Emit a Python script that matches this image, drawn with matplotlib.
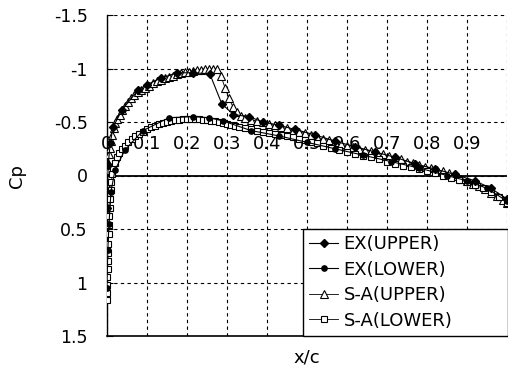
import matplotlib
matplotlib.use("Agg")
import matplotlib.pyplot as plt

# Cp distribution, experiment vs S-A computation

# EX(UPPER)
ex_up_x = [0.0, 0.003, 0.008, 0.015, 0.037, 0.078, 0.10, 0.135, 0.175, 0.215, 0.257,
           0.287, 0.316, 0.355, 0.39, 0.43, 0.47, 0.52, 0.57, 0.62, 0.67, 0.72, 0.77,
           0.82, 0.87, 0.92, 0.96, 1.0]
ex_up_cp = [0.3, -0.1, -0.3, -0.45, -0.61, -0.80, -0.85, -0.91, -0.96, -0.96, -0.95,
            -0.67, -0.57, -0.55, -0.50, -0.47, -0.43, -0.38, -0.32, -0.27, -0.22, -0.17, -0.11,
            -0.06, -0.01, 0.05, 0.12, 0.22]

# EX(LOWER)
ex_lo_x = [0.0, 0.002, 0.005, 0.01, 0.02, 0.045, 0.09, 0.155, 0.215, 0.255, 0.29,
           0.36, 0.43, 0.5, 0.57, 0.64, 0.71, 0.78, 0.85, 0.9, 0.95, 1.0]
ex_lo_cp = [1.05, 0.7, 0.45, 0.15, -0.05, -0.24, -0.42, -0.54, -0.55, -0.54, -0.51,
            -0.42, -0.37, -0.31, -0.25, -0.19, -0.13, -0.07, 0.0, 0.05, 0.12, 0.24]

# S-A(UPPER)
sa_up_x = [0.0, 0.001, 0.002, 0.003, 0.005, 0.007, 0.01, 0.013, 0.017, 0.021, 0.026,
           0.032, 0.038, 0.045, 0.052, 0.06, 0.068, 0.077, 0.086, 0.095, 0.105, 0.115,
           0.125, 0.135, 0.145, 0.155, 0.165, 0.175, 0.185, 0.195, 0.205, 0.215, 0.225,
           0.235, 0.245, 0.255, 0.265, 0.275, 0.285, 0.295, 0.305, 0.315, 0.325, 0.335,
           0.345, 0.36, 0.375, 0.39, 0.405, 0.42, 0.435, 0.45, 0.465, 0.48, 0.495, 0.51,
           0.525, 0.54, 0.555, 0.57, 0.585, 0.60, 0.615, 0.63, 0.645, 0.66, 0.675, 0.69,
           0.705, 0.72, 0.735, 0.75, 0.765, 0.78, 0.795, 0.81, 0.825, 0.84, 0.855, 0.87,
           0.885, 0.90, 0.915, 0.93, 0.945, 0.96, 0.975, 0.99, 1.0]
sa_up_cp = [0.35, 0.1, -0.05, -0.12, -0.2, -0.26, -0.32, -0.38, -0.44, -0.49, -0.53,
            -0.57, -0.61, -0.65, -0.69, -0.72, -0.75, -0.78, -0.80, -0.82, -0.84, -0.86,
            -0.88, -0.89, -0.91, -0.92, -0.93, -0.95, -0.96, -0.97, -0.97, -0.98, -0.99,
            -0.99, -1.0, -1.0, -1.0, -1.0, -0.93, -0.82, -0.72, -0.64, -0.59, -0.56,
            -0.54, -0.52, -0.51, -0.50, -0.48, -0.47, -0.45, -0.44, -0.42, -0.41, -0.40, -0.38,
            -0.36, -0.34, -0.33, -0.31, -0.29, -0.28, -0.27, -0.25, -0.24, -0.23, -0.21, -0.20,
            -0.18, -0.17, -0.15, -0.13, -0.12, -0.10, -0.08, -0.07, -0.05, -0.04, -0.02, 0.0,
            0.03, 0.05, 0.08, 0.10, 0.13, 0.16, 0.19, 0.23, 0.26]

# S-A(LOWER)
sa_lo_x = [0.0, 0.0003, 0.0006, 0.001, 0.0015, 0.002, 0.0025, 0.003, 0.004, 0.005, 0.006,
           0.007, 0.008, 0.009, 0.011, 0.013, 0.016, 0.02, 0.025, 0.031, 0.038, 0.045,
           0.053, 0.062, 0.071, 0.08, 0.09, 0.10, 0.11, 0.12, 0.13, 0.14, 0.15, 0.16,
           0.17, 0.18, 0.19, 0.20, 0.21, 0.22, 0.23, 0.24, 0.25, 0.26, 0.27, 0.28, 0.29,
           0.30, 0.31, 0.32, 0.33, 0.345, 0.36, 0.375, 0.39, 0.405, 0.42, 0.435, 0.45,
           0.465, 0.48, 0.495, 0.51, 0.525, 0.54, 0.56, 0.58, 0.60, 0.62, 0.64, 0.66,
           0.68, 0.70, 0.72, 0.74, 0.76, 0.78, 0.80, 0.82, 0.84, 0.86, 0.88, 0.90, 0.92,
           0.94, 0.96, 0.98, 1.0]
sa_lo_cp = [1.16, 1.1, 1.02, 0.95, 0.87, 0.8, 0.72, 0.64, 0.55, 0.46, 0.38,
            0.3, 0.22, 0.14, 0.06, -0.01, -0.07, -0.12, -0.17, -0.21, -0.25, -0.28,
            -0.31, -0.34, -0.37, -0.39, -0.41, -0.43, -0.45, -0.46, -0.48, -0.49, -0.50, -0.51,
            -0.52, -0.52, -0.53, -0.53, -0.53, -0.53, -0.53, -0.52, -0.52, -0.51, -0.51, -0.50, -0.49,
            -0.48, -0.47, -0.46, -0.45, -0.44, -0.43, -0.42, -0.41, -0.40, -0.39, -0.38, -0.37,
            -0.36, -0.34, -0.33, -0.31, -0.30, -0.28, -0.26, -0.24, -0.22, -0.20, -0.18, -0.17,
            -0.15, -0.13, -0.11, -0.09, -0.08, -0.06, -0.04, -0.02, 0.0, 0.02, 0.04, 0.06, 0.09,
            0.12, 0.15, 0.20, 0.26]

x_ticks = [0.0, 0.1, 0.2, 0.3, 0.4, 0.5, 0.6, 0.7, 0.8, 0.9, 1.0]
x_labels = ["0", "0.1", "0.2", "0.3", "0.4", "0.5", "0.6", "0.7", "0.8", "0.9"]
y_ticks = [-1.5, -1.0, -0.5, 0.0, 0.5, 1.0, 1.5]
y_labels = ["-1.5", "-1", "-0.5", "0", "0.5", "1", "1.5"]

plt.rcParams['font.family'] = ['DejaVu Sans']

fig = plt.figure(figsize=(5.08, 3.70), dpi=100)
ax = fig.add_axes([107/508, 34/370, 400/508, 321/370])

ax.plot(ex_up_x, ex_up_cp, color='black', lw=0.8, marker='D', ms=3.6,
        mfc='black', mec='black', label='EX(UPPER)', zorder=4)
ax.plot(ex_lo_x, ex_lo_cp, color='black', lw=0.8, marker='o', ms=3.8,
        mfc='black', mec='black', label='EX(LOWER)', zorder=4)
ax.plot(sa_up_x, sa_up_cp, color='black', lw=0.6, marker='^', ms=5.2,
        mfc='white', mec='black', mew=0.8, label='S-A(UPPER)', zorder=3)
ax.plot(sa_lo_x, sa_lo_cp, color='black', lw=0.6, marker='s', ms=4.8,
        mfc='white', mec='black', mew=0.8, label='S-A(LOWER)', zorder=3)

ax.axhline(0, color='black', lw=1.3, zorder=2)

ax.set_xlim(0, 1)
ax.set_ylim(1.5, -1.5)
ax.set_xticks(x_ticks)
ax.set_yticks(y_ticks)
ax.set_yticklabels(y_labels, fontsize=12.5)
ax.tick_params(axis='x', length=0, labelbottom=False)
ax.tick_params(axis='y', direction='in', length=4, width=0.8, pad=14)
ax.grid(True, color='black', lw=0.8, linestyle=(0, (3, 3)))
ax.spines['top'].set_visible(False)
ax.spines['right'].set_visible(False)
ax.spines['left'].set_linewidth(1.0)
ax.spines['bottom'].set_linewidth(1.2)

# x tick labels sit inside the plot, above the zero line
for xv, lab in zip(x_ticks, x_labels):
    ax.text(xv, -0.29, lab, ha='center', va='center', fontsize=13, zorder=1)

ax.set_xlabel('x/c', fontsize=13, labelpad=9)
ax.set_ylabel('Cp', fontsize=13, labelpad=20)

leg = ax.legend(loc='lower left', bbox_to_anchor=(0.49, 0.0, 0.5125, 0.333),
                mode='expand', borderaxespad=0, fontsize=13, frameon=True,
                fancybox=False, edgecolor='black', framealpha=1,
                handlelength=1.6, handletextpad=0.3, labelspacing=0.42,
                borderpad=0.35)
leg.get_frame().set_linewidth(1.0)

plt.savefig('out.png', dpi=100)
